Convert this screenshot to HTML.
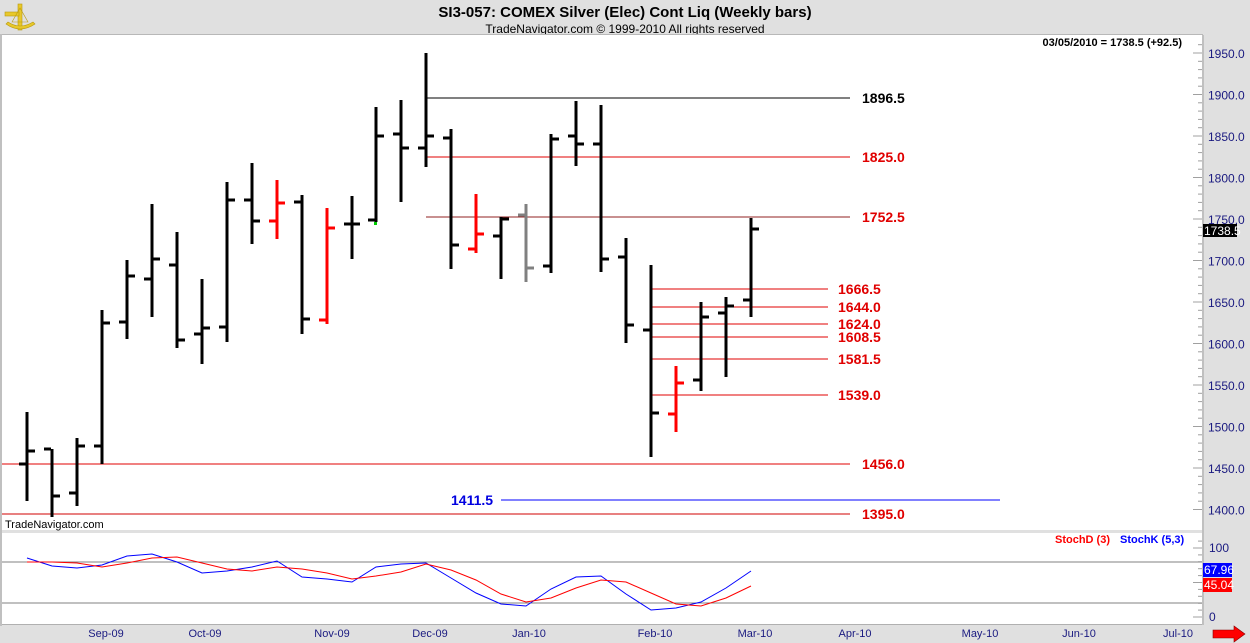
<!DOCTYPE html>
<html><head><meta charset="utf-8"><style>
html,body{margin:0;padding:0;background:#e0e0e0;}
body{width:1250px;height:643px;overflow:hidden;position:relative;font-family:"Liberation Sans",Arial,sans-serif;}
svg{position:absolute;left:0;top:0;}
</style></head><body>
<svg id="s" width="1250" height="643" xmlns="http://www.w3.org/2000/svg" font-family="Liberation Sans, Arial, sans-serif">
<rect x="0" y="0" width="1250" height="643" fill="#e0e0e0"/>
<!-- logo -->
<g fill="#e8c82a" stroke="#b89a10" stroke-width="0.6">
<rect x="18" y="4" width="4" height="26"/>
<rect x="5" y="12" width="14" height="4"/>
<path d="M6 24 Q20 34 35 24 L33 22 Q20 30 8 22 Z"/>
<path d="M12 22 L20 8 L28 22 Z" fill="none"/>
</g>
<text x="625" y="17" text-anchor="middle" font-size="15" font-weight="bold" fill="#000">SI3-057:  COMEX Silver (Elec) Cont Liq  (Weekly bars)</text>
<text x="625" y="33" text-anchor="middle" font-size="12" fill="#000">TradeNavigator.com © 1999-2010 All rights reserved</text>
<!-- panels -->
<rect x="0" y="34" width="1203" height="1" fill="#b8b8b8"/>
<rect x="0" y="34" width="2" height="592" fill="#c0c0c0"/>
<rect x="2" y="35" width="1200" height="495" fill="#fff"/>
<rect x="2" y="533" width="1200" height="91" fill="#fff"/>
<rect x="2" y="624" width="1200" height="1" fill="#b0b0b0"/>
<rect x="1202" y="35" width="2" height="590" fill="#c0c0c0"/>
<text x="1182" y="46" text-anchor="end" font-size="11" font-weight="bold" fill="#000">03/05/2010 = 1738.5 (+92.5)</text>
<g id="lines"></g>
<g id="bars"></g>
<g id="axis"></g>
<text x="5" y="528" font-size="11" fill="#000">TradeNavigator.com</text>
<!-- level labels -->
<g font-size="14" font-weight="bold" fill="#e00000">
<text x="862" y="103" fill="#000">1896.5</text>
<text x="862" y="162">1825.0</text>
<text x="862" y="222">1752.5</text>
<text x="838" y="294">1666.5</text>
<text x="838" y="312">1644.0</text>
<text x="838" y="329">1624.0</text>
<text x="838" y="342">1608.5</text>
<text x="838" y="364">1581.5</text>
<text x="838" y="400">1539.0</text>
<text x="862" y="469">1456.0</text>
<text x="862" y="519">1395.0</text>
<text x="451" y="505" fill="#0000e0">1411.5</text>
</g>
<!-- stoch panel -->
<line x1="2" y1="562" x2="1202" y2="562" stroke="#808080" stroke-width="1"/>
<line x1="2" y1="603" x2="1202" y2="603" stroke="#808080" stroke-width="1"/>
<polyline id="kline" fill="none" stroke="#0000ff" stroke-width="1"/>
<polyline id="dline" fill="none" stroke="#ff0000" stroke-width="1"/>
<text x="1055" y="543" font-size="11" font-weight="bold" fill="#ff0000">StochD (3)</text>
<text x="1120" y="543" font-size="11" font-weight="bold" fill="#0000ff">StochK (5,3)</text>
<g font-size="12" fill="#1a1a80">
<text x="1209" y="552">100</text>
<text x="1209" y="621">0</text>
</g>
<rect x="1203" y="563" width="29" height="14" fill="#0000ff"/>
<text x="1204" y="574" font-size="12" fill="#fff">67.96</text>
<rect x="1203" y="578" width="29" height="14" fill="#ff0000"/>
<text x="1204" y="589" font-size="12" fill="#fff">45.04</text>
<rect x="1203" y="224" width="34" height="13" fill="#000"/>
<text x="1204" y="235" font-size="12" fill="#fff">1738.5</text>
<!-- dates -->
<g font-size="11" fill="#1a1a80" text-anchor="middle">
<text x="106" y="637">Sep-09</text><text x="205" y="637">Oct-09</text><text x="332" y="637">Nov-09</text>
<text x="430" y="637">Dec-09</text><text x="529" y="637">Jan-10</text><text x="655" y="637">Feb-10</text>
<text x="755" y="637">Mar-10</text><text x="855" y="637">Apr-10</text><text x="980" y="637">May-10</text>
<text x="1079" y="637">Jun-10</text><text x="1178" y="637">Jul-10</text>
</g>
<path d="M1213 630 L1234 630 L1234 626 L1245 634 L1234 642 L1234 638 L1213 638 Z" fill="#ff0000" stroke="#800" stroke-width="0.6"/>
</svg>
<script>
var NS="http://www.w3.org/2000/svg";
function el(p,t,a){var e=document.createElementNS(NS,t);for(var k in a)e.setAttribute(k,a[k]);p.appendChild(e);return e;}
var L=document.getElementById('lines');
[[426,850,98,'#000'],[426,850,157,'#e00000'],[426,850,217,'#902020'],
 [651,828,289,'#e00000'],[651,828,307,'#e00000'],[651,828,324,'#e00000'],[651,828,337,'#e00000'],[651,828,359,'#e00000'],[651,828,395,'#e00000'],
 [2,850,464,'#e00000'],[2,850,514,'#d00000'],[501,1000,500,'#0000ff']].forEach(function(l){
 el(L,'rect',{x:l[0],y:l[2]-0.5,width:l[1]-l[0],height:1,fill:l[3]});});
var B=document.getElementById('bars');
var bars=[[27,412,501,464,451],[52,449,517,449,496],[77,438,506,493,446],[102,310,464,446,323],[127,260,339,322,276],
[152,204,317,279,259],[177,232,348,265,340],[202,279,364,334,328],[227,182,342,327,200],[252,163,244,200,221],
[277,180,239,221,203,'#f00'],[302,195,334,202,319],[327,208,324,320,228,'#f00'],[352,196,259,224,224],[376,107,222,220,136],
[401,100,202,134,148],[426,53,167,148,136],[451,129,269,138,245],[476,194,253,249,234,'#f00'],[501,217,279,236,219],
[526,204,282,215,268,'#808080'],[551,134,273,266,139],[576,101,166,136,144],[601,105,272,144,259],[626,238,343,257,325],
[651,265,457,330,413],[676,366,432,414,383,'#f00'],[701,302,391,380,317],[726,297,377,313,306],[751,218,317,300,229]];
bars.forEach(function(b){var c=b[5]||'#000';
 el(B,'rect',{x:b[0]-1.5,y:b[1],width:3,height:b[2]-b[1],fill:c});
 el(B,'rect',{x:b[0]-8,y:b[3]-1.5,width:7,height:3,fill:c});
 el(B,'rect',{x:b[0]+1,y:b[4]-1.5,width:7,height:3,fill:c});});
el(B,'rect',{x:374,y:222,width:3,height:3,fill:'#0c0'});
var A=document.getElementById('axis');
for(var p=1400;p<=1960;p+=10){var y=53+(1950-p)*0.83;if(y<37||y>528)continue;
 var maj=(p%50==0);el(A,'rect',{x:maj?1193:1198,y:y-0.5,width:maj?9:4,height:1,fill:'#a0a0a0'});
 if(maj){var t=el(A,'text',{x:1208,y:y+5,'font-size':12,fill:'#1a1a80'});t.textContent=p.toFixed(1);}}
for(var v=0;v<=110;v+=10){var y=617-0.69*v;el(A,'rect',{x:(v%50==0)?1193:1198,y:y-0.5,width:(v%50==0)?9:4,height:1,fill:'#a0a0a0'});}
var K=[558,566,568,565,556,554,562,573,571,567,561,577,579,582,567,564,563,578,593,604,606,589,577,576,594,610,608,602,588,571];
var D=[562,562,563,567,563,558,557,563,569,571,567,569,573,579,576,572,564,570,580,594,602,598,588,580,582,593,604,606,598,586];
var xs=bars.map(function(b){return b[0];});
document.getElementById('kline').setAttribute('points',xs.map(function(x,i){return x+','+K[i];}).join(' '));
document.getElementById('dline').setAttribute('points',xs.map(function(x,i){return x+','+D[i];}).join(' '));
</script>
</body></html>
